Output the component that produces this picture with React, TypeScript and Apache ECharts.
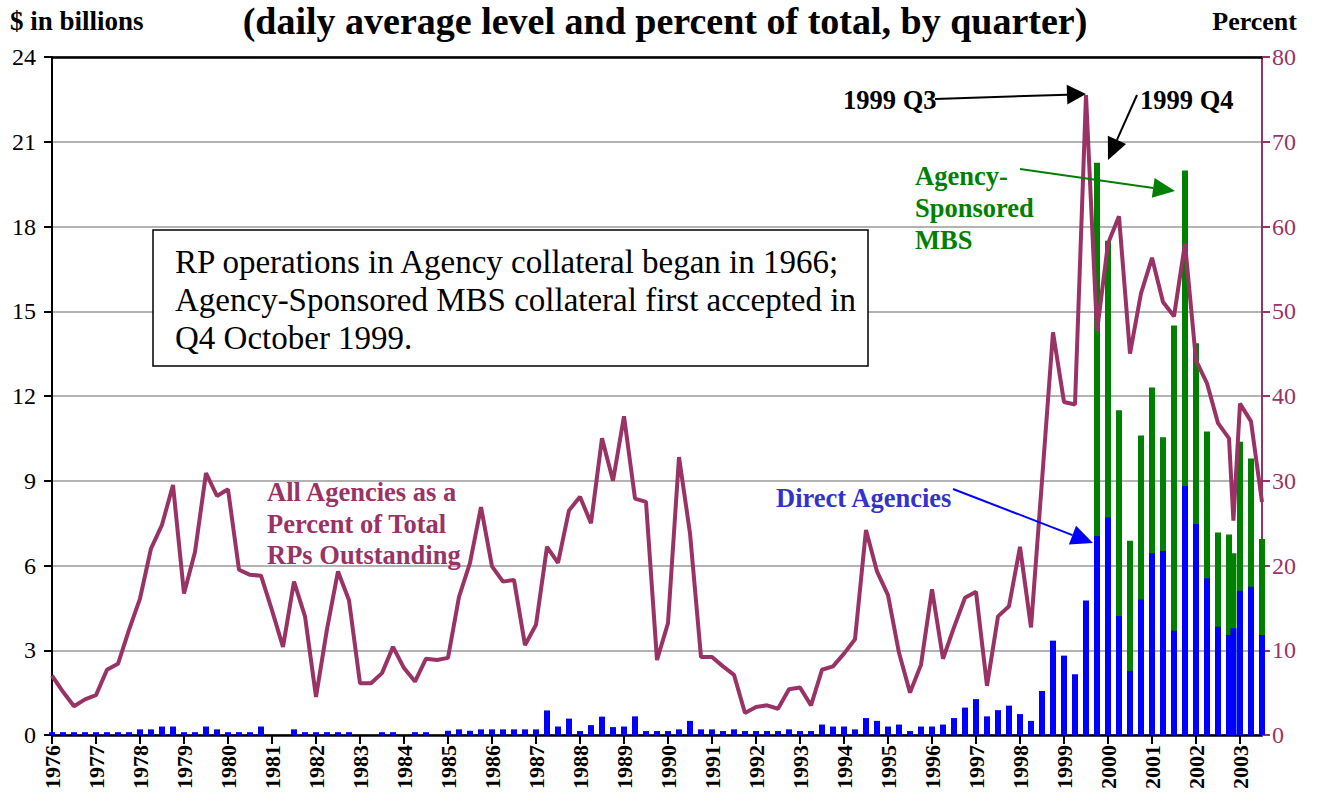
import React, { useEffect, useRef } from "react";
import * as echarts from "echarts";

// ---- Data ----
// Quarterly observations 1976 Q1 .. 2003 Q3, plus one extra reading between 2002 Q4 and 2003 Q1
const quarterLabels: string[] = [];
for (let y = 1976; y <= 2003; y++) {
  for (let q = 1; q <= 4; q++) {
    if (y === 2003 && q > 3) break;
    quarterLabels.push(`${y} Q${q}`);
    if (y === 2002 && q === 4) quarterLabels.push("2002 Q4+");
  }
}
const periodPosition = (label: string): number => {
  const [yr, qq] = label.split(" Q");
  if (qq === "4+") return Number(yr) + 0.85;
  return Number(yr) + (Number(qq) - 1) / 4;
};

// Direct Agencies, $ billions (blue bars)
const directAgencies: number[] = [
  0.1, 0.1, 0.1, 0.1, // 1976
  0.1, 0.1, 0.1, 0.1, // 1977
  0.2, 0.2, 0.3, 0.3, // 1978
  0.1, 0.1, 0.3, 0.2, // 1979
  0.1, 0.1, 0.1, 0.3, // 1980
  0, 0, 0.2, 0.1, // 1981
  0.1, 0.1, 0.1, 0.1, // 1982
  0, 0, 0.1, 0.1, // 1983
  0, 0.1, 0.1, 0, // 1984
  0.15, 0.2, 0.15, 0.2, // 1985
  0.2, 0.2, 0.2, 0.2, // 1986
  0.2, 0.87, 0.3, 0.58, // 1987
  0.14, 0.35, 0.65, 0.28, // 1988
  0.3, 0.66, 0.14, 0.14, // 1989
  0.14, 0.2, 0.5, 0.2, // 1990
  0.2, 0.14, 0.2, 0.14, // 1991
  0.14, 0.14, 0.14, 0.2, // 1992
  0.14, 0.14, 0.37, 0.3, // 1993
  0.3, 0.2, 0.6, 0.5, // 1994
  0.3, 0.37, 0.14, 0.3, // 1995
  0.3, 0.37, 0.6, 0.97, // 1996
  1.27, 0.66, 0.88, 1.04, // 1997
  0.74, 0.5, 1.56, 3.34, // 1998
  2.81, 2.15, 4.76, 7.04, // 1999
  7.7, 4.21, 2.27, 4.8, // 2000
  6.43, 6.51, 3.69, 8.81, // 2001
  7.47, 5.55, 3.83, 3.54, 3.78, // 2002 (+ extra)
  5.11, 5.25, 3.54, // 2003
];

// Agency-Sponsored MBS, $ billions (green, on top of the blue bars)
const agencyMbs: number[] = [
  ...new Array(95).fill(0), // 1976 Q1 .. 1999 Q3
  13.22, // 1999 Q4
  9.8, 7.29, 4.61, 5.8, // 2000
  5.87, 4.03, 10.81, 11.17, // 2001
  6.4, 5.19, 3.34, 3.56, 2.65, // 2002 (+ extra)
  5.27, 4.54, 3.4, // 2003
];

// All Agencies as a percent of total RPs outstanding
const percentOfTotal: number[] = [
  7.0, 5.1, 3.4, 4.2, // 1976
  4.7, 7.7, 8.4, 12.4, // 1977
  16.1, 22.0, 24.8, 29.5, // 1978
  16.7, 21.6, 30.9, 28.2, // 1979
  29.0, 19.5, 18.9, 18.8, // 1980
  14.7, 10.4, 18.1, 14.0, // 1981
  4.5, 12.5, 19.3, 15.9, // 1982
  6.1, 6.1, 7.3, 10.4, // 1983
  7.9, 6.3, 9.0, 8.85, // 1984
  9.1, 16.3, 20.3, 26.9, // 1985
  19.9, 18.1, 18.3, 10.6, // 1986
  13.0, 22.2, 20.3, 26.5, // 1987
  28.1, 25.0, 35.0, 30.0, // 1988
  37.6, 27.9, 27.5, 8.85, // 1989
  13.2, 32.8, 23.8, 9.2, // 1990
  9.2, 8.1, 7.1, 2.6, // 1991
  3.3, 3.5, 3.1, 5.4, // 1992
  5.6, 3.5, 7.7, 8.1, // 1993
  9.6, 11.3, 24.2, 19.3, // 1994
  16.5, 9.7, 5.0, 8.3, // 1995
  17.2, 9.0, 12.7, 16.2, // 1996
  16.9, 5.8, 14.0, 15.2, // 1997
  22.2, 12.7, 30.0, 47.5, // 1998
  39.3, 39.0, 75.5, 47.6, // 1999
  58.0, 61.2, 45.0, 52.1, // 2000
  56.3, 51.1, 49.4, 58.0, // 2001
  44.2, 41.5, 36.8, 35.0, 25.3, // 2002 (+ extra)
  39.1, 37.0, 27.5, // 2003
];

const leftTicks = { min: 0, max: 24, interval: 3 };
const rightTicks = { min: 0, max: 80, interval: 10 };
const yearRange = { min: 1976, max: 2003.5 };

const FONT = "'Liberation Serif', 'Times New Roman', serif";
const PLUM = "#993366";
const BLUE = "#0000FF";
const GREEN = "#008000";

function arrow(x1: number, y1: number, x2: number, y2: number, color: string, len: number, hw: number) {
  const dx = x2 - x1;
  const dy = y2 - y1;
  const d = Math.hypot(dx, dy);
  const ux = dx / d;
  const uy = dy / d;
  const bx = x2 - ux * len;
  const by = y2 - uy * len;
  const px = -uy;
  const py = ux;
  return [
    {
      type: "line",
      z: 100,
      shape: { x1, y1, x2: bx, y2: by },
      style: { stroke: color, lineWidth: 2 },
    },
    {
      type: "polygon",
      z: 100,
      shape: {
        points: [
          [x2, y2],
          [bx + px * hw, by + py * hw],
          [bx - px * hw, by - py * hw],
        ],
      },
      style: { fill: color },
    },
  ];
}

function text(t: string, x: number, y: number, size: number, color: string, bold: boolean, align = "left", lineHeight?: number) {
  return {
    type: "text",
    z: 100,
    x,
    y,
    style: {
      text: t,
      font: `${bold ? "bold " : ""}${size}px ${FONT}`,
      fill: color,
      align,
      verticalAlign: "middle",
      lineHeight: lineHeight ?? size * 1.2,
    },
  };
}

export default function App() {
  const ref = useRef<HTMLDivElement>(null);

  useEffect(() => {
    const chart = echarts.init(ref.current!, null, { renderer: "svg" });
    const xs = quarterLabels.map(periodPosition);

    const totalData = xs
      .map((x, i) => (agencyMbs[i] > 0 ? [x, +(directAgencies[i] + agencyMbs[i]).toFixed(2)] : null))
      .filter((d) => d !== null);
    const directData = xs.map((x, i) => [x, directAgencies[i]]);
    const pctData = xs.map((x, i) => [x, percentOfTotal[i]]);

    const graphic: any[] = [
      text("(daily average level and percent of total, by quarter)", 665, 21, 38, "#000", true, "center"),
      text("$ in billions", 10, 21, 27, "#000", true, "left"),
      text("Percent", 1297, 21, 26, "#000", true, "right"),
      {
        type: "rect",
        z: 100,
        shape: { x: 153, y: 230, width: 715, height: 136 },
        style: { fill: "#fff", stroke: "#000", lineWidth: 1.5 },
      },
      text(
        "RP operations in Agency collateral began in 1966;\nAgency-Sponsored MBS collateral first accepted in\nQ4 October 1999.",
        175,
        300,
        33,
        "#000",
        false,
        "left",
        38
      ),
      text("All Agencies as a\nPercent of Total\nRPs Outstanding", 267, 523.5, 26.5, PLUM, true, "left", 31.5),
      text("Direct Agencies", 776, 498, 26.5, "#3333CC", true, "left"),
      text("Agency-\nSponsored\nMBS", 915, 208, 26.5, GREEN, true, "left", 32),
      text("1999 Q3", 843, 100, 26.5, "#000", true, "left"),
      text("1999 Q4", 1140, 100, 26.5, "#000", true, "left"),
      ...arrow(935, 99, 1086, 94, "#000", 19, 10),
      ...arrow(1137, 95, 1108, 160, "#000", 22, 10),
      ...arrow(1020, 169, 1175, 191, GREEN, 22, 10),
      ...arrow(953, 489, 1093, 543, BLUE, 22, 10),
    ];

    const option: any = {
      animation: false,
      backgroundColor: "#fff",
      textStyle: { fontFamily: FONT },
      grid: { left: 52, right: 55, top: 57, bottom: 73, containLabel: false },
      xAxis: [
        {
          type: "value",
          min: yearRange.min,
          max: yearRange.max,
          interval: 1,
          position: "bottom",
          axisLine: { show: true, onZero: false, lineStyle: { color: "#000", width: 2.5 } },
          axisTick: { show: true, inside: false, length: 9, lineStyle: { color: "#000", width: 2 } },
          axisLabel: {
            rotate: 90,
            margin: 10,
            color: "#000",
            fontFamily: FONT,
            fontWeight: "bold",
            fontSize: 22,
            showMaxLabel: false,
            formatter: (v: number) => (Math.abs(v - Math.round(v)) < 1e-6 ? String(Math.round(v)) : ""),
          },
          splitLine: { show: false },
        },
        {
          type: "value",
          min: yearRange.min,
          max: yearRange.max,
          position: "top",
          axisLine: { show: true, onZero: false, lineStyle: { color: "#000", width: 2.5 } },
          axisTick: { show: false },
          axisLabel: { show: false },
          splitLine: { show: false },
        },
      ],
      yAxis: [
        {
          type: "value",
          position: "left",
          min: leftTicks.min,
          max: leftTicks.max,
          interval: leftTicks.interval,
          axisLine: { show: true, lineStyle: { color: "#000", width: 2 } },
          axisTick: { show: true, inside: false, length: 8, lineStyle: { color: "#000", width: 2 } },
          axisLabel: { color: "#000", fontFamily: FONT, fontSize: 24, margin: 16 },
          splitLine: { show: true, lineStyle: { color: "#b3b3b3", width: 2 } },
        },
        {
          type: "value",
          position: "right",
          min: rightTicks.min,
          max: rightTicks.max,
          interval: rightTicks.interval,
          axisLine: { show: true, lineStyle: { color: PLUM, width: 2 } },
          axisTick: { show: true, inside: false, length: 8, lineStyle: { color: PLUM, width: 2 } },
          axisLabel: { color: PLUM, fontFamily: FONT, fontSize: 24, margin: 10 },
          splitLine: { show: false },
        },
      ],
      series: [
        {
          name: "Agency-Sponsored MBS",
          type: "bar",
          xAxisIndex: 0,
          yAxisIndex: 0,
          barWidth: 6,
          barGap: "-100%",
          itemStyle: { color: GREEN },
          data: totalData,
        },
        {
          name: "Direct Agencies",
          type: "bar",
          xAxisIndex: 0,
          yAxisIndex: 0,
          barWidth: 6,
          barGap: "-100%",
          itemStyle: { color: BLUE },
          data: directData,
        },
        {
          name: "All Agencies as a Percent of Total RPs Outstanding",
          type: "line",
          xAxisIndex: 0,
          yAxisIndex: 1,
          symbol: "none",
          z: 5,
          lineStyle: { color: PLUM, width: 4 },
          data: pctData,
        },
      ],
      graphic,
    };

    chart.setOption(option);
    return () => chart.dispose();
  }, []);

  return (
    <div
      ref={ref}
      style={{ position: "fixed", left: 0, top: 0, width: 1317, height: 808, background: "#fff" }}
    />
  );
}
